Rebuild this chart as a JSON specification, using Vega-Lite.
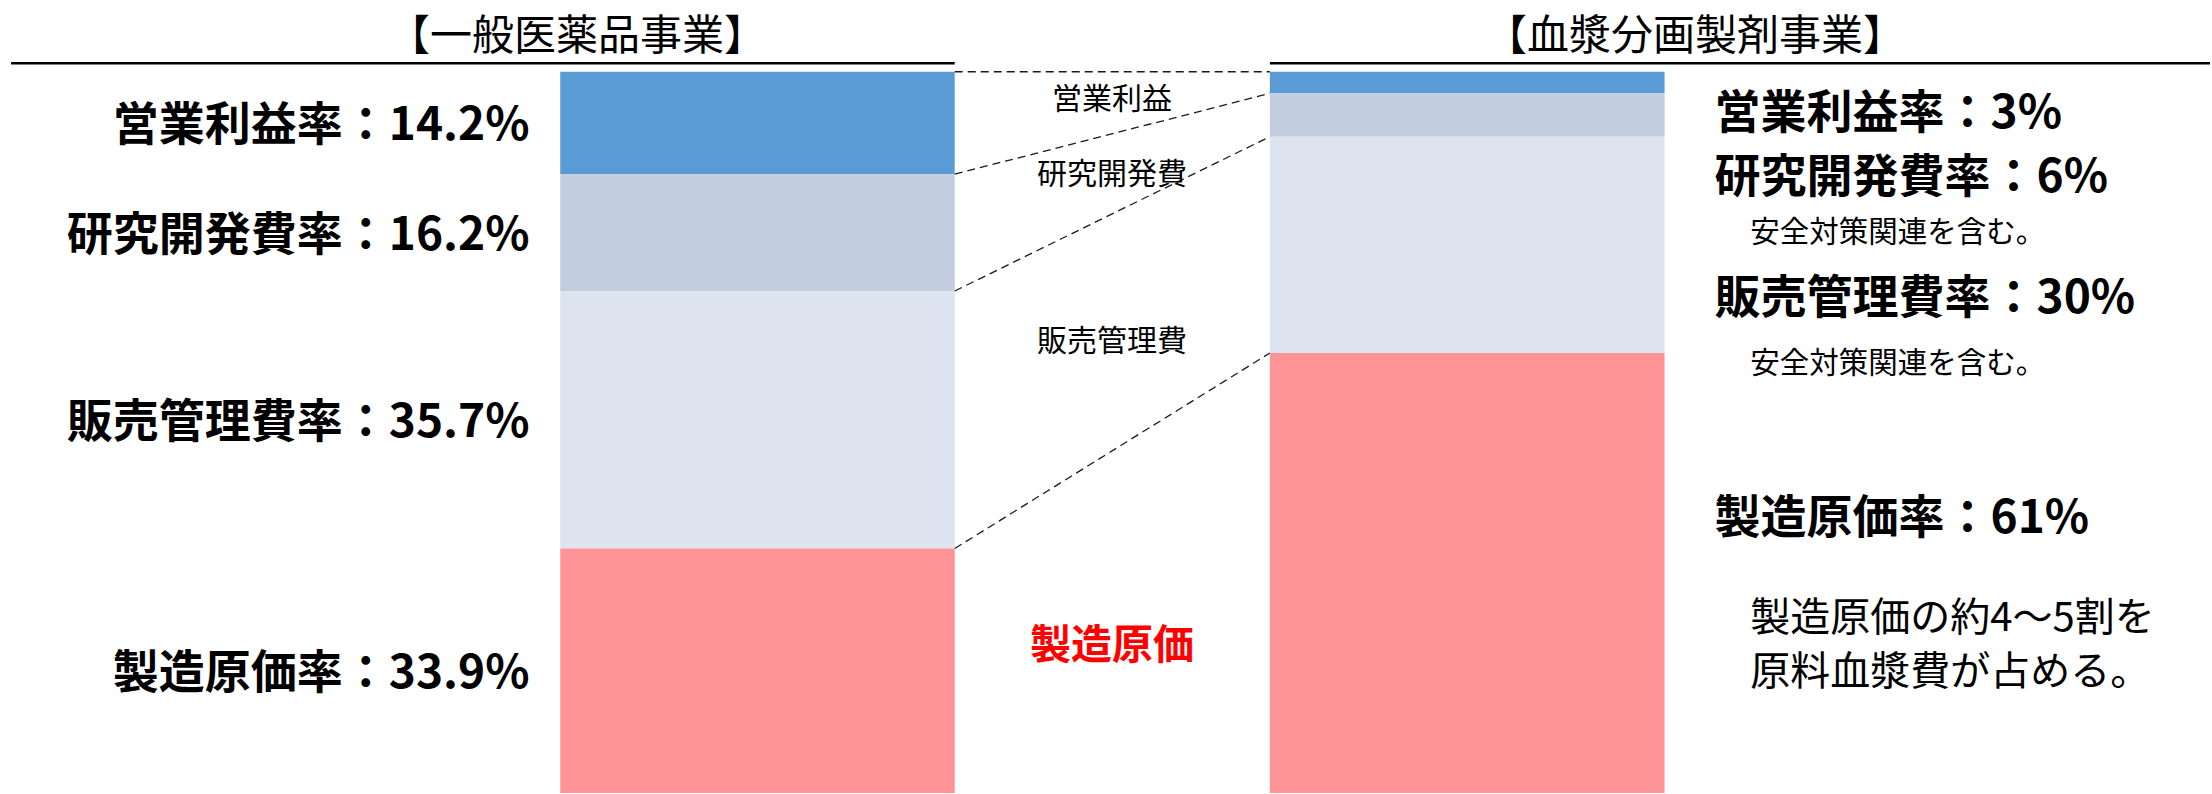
{
  "$schema": "https://vega.github.io/schema/vega-lite/v6.json",
  "width": 2212,
  "height": 794,
  "autosize": {"type": "fit", "contains": "padding"},
  "padding": 0,
  "background": "white",
  "config": {"view": {"stroke": null}, "axis": {"disable": true}, "font": "Noto Sans CJK JP", "text": {"font": "Noto Sans CJK JP"}},
  "data": {"values": [
    {"business": "otc", "bizTitle": "【一般医薬品事業】", "segment": "営業利益", "order": 1, "rate": 14.2, "label": "営業利益率：14.2%", "note": ""},
    {"business": "otc", "bizTitle": "【一般医薬品事業】", "segment": "研究開発費", "order": 2, "rate": 16.2, "label": "研究開発費率：16.2%", "note": ""},
    {"business": "otc", "bizTitle": "【一般医薬品事業】", "segment": "販売管理費", "order": 3, "rate": 35.7, "label": "販売管理費率：35.7%", "note": ""},
    {"business": "otc", "bizTitle": "【一般医薬品事業】", "segment": "製造原価", "order": 4, "rate": 33.9, "label": "製造原価率：33.9%", "note": ""},
    {"business": "plasma", "bizTitle": "【血漿分画製剤事業】", "segment": "営業利益", "order": 1, "rate": 3, "label": "営業利益率：3%", "note": ""},
    {"business": "plasma", "bizTitle": "【血漿分画製剤事業】", "segment": "研究開発費", "order": 2, "rate": 6, "label": "研究開発費率：6%", "note": "安全対策関連を含む。"},
    {"business": "plasma", "bizTitle": "【血漿分画製剤事業】", "segment": "販売管理費", "order": 3, "rate": 30, "label": "販売管理費率：30%", "note": "安全対策関連を含む。"},
    {"business": "plasma", "bizTitle": "【血漿分画製剤事業】", "segment": "製造原価", "order": 4, "rate": 61, "label": "製造原価率：61%", "note": "製造原価の約4～5割を\n原料血漿費が占める。"}
  ]},
  "transform": [
    {"stack": "rate", "groupby": ["business"], "sort": [{"field": "order", "order": "ascending"}], "as": ["from", "to"]}
  ],
  "layer": [
    {
      "transform": [{"filter": "datum.business === 'otc'"}],
      "mark": {"type": "bar"},
      "encoding": {
        "x": {"datum": 25.35, "type": "quantitative", "scale": {"domain": [0, 100], "nice": false, "zero": false}},
        "x2": {"datum": 43.2},
        "y": {"field": "from", "type": "quantitative", "scale": {"domain": [-9.945, 99.72], "reverse": true, "nice": false, "zero": false}},
        "y2": {"field": "to"},
        "color": {"field": "segment", "type": "nominal", "legend": null, "scale": {"domain": ["営業利益", "研究開発費", "販売管理費", "製造原価"], "range": ["#5B9BD5", "#C2CDE0", "#DDE4EF", "#FF9497"]}}
      }
    },
    {
      "transform": [{"filter": "datum.business === 'plasma'"}],
      "mark": {"type": "bar"},
      "encoding": {
        "x": {"datum": 57.46, "type": "quantitative"},
        "x2": {"datum": 75.32},
        "y": {"field": "from", "type": "quantitative"},
        "y2": {"field": "to"},
        "color": {"field": "segment", "type": "nominal", "legend": null}
      }
    },
    {
      "transform": [{"pivot": "business", "value": "from", "groupby": ["segment"]}],
      "mark": {"type": "rule", "color": "#1a1a1a", "strokeWidth": 1.3, "strokeDash": [8, 5]},
      "encoding": {
        "x": {"datum": 43.2, "type": "quantitative"},
        "x2": {"datum": 57.46},
        "y": {"field": "otc", "type": "quantitative"},
        "y2": {"field": "plasma"}
      }
    },
    {
      "transform": [{"filter": "datum.business === 'otc' && datum.order === 1"}],
      "mark": {"type": "rule", "color": "#000000", "strokeWidth": 2.5},
      "encoding": {
        "x": {"datum": 0.5, "type": "quantitative"},
        "x2": {"datum": 43.2},
        "y": {"datum": -1.17, "type": "quantitative"}
      }
    },
    {
      "transform": [{"filter": "datum.business === 'plasma' && datum.order === 1"}],
      "mark": {"type": "rule", "color": "#000000", "strokeWidth": 2.5},
      "encoding": {
        "x": {"datum": 57.46, "type": "quantitative"},
        "x2": {"datum": 100},
        "y": {"datum": -1.17, "type": "quantitative"}
      }
    },
    {
      "transform": [{"filter": "datum.business === 'otc' && datum.order === 1"}],
      "mark": {"type": "text", "fontSize": 42, "align": "center", "baseline": "middle", "color": "#000000", "dy": 5},
      "encoding": {
        "x": {"datum": 26.11, "type": "quantitative"},
        "y": {"datum": -5.57, "type": "quantitative"},
        "text": {"field": "bizTitle"}
      }
    },
    {
      "transform": [{"filter": "datum.business === 'plasma' && datum.order === 1"}],
      "mark": {"type": "text", "fontSize": 42, "align": "center", "baseline": "middle", "color": "#000000", "dy": 5},
      "encoding": {
        "x": {"datum": 76.7, "type": "quantitative"},
        "y": {"datum": -5.57, "type": "quantitative"},
        "text": {"field": "bizTitle"}
      }
    },
    {
      "transform": [
        {"filter": "datum.business === 'otc'"},
        {"fold": ["from", "to"], "as": ["edge", "pos"]}
      ],
      "mark": {"type": "text", "fontSize": 46, "fontWeight": "bold", "align": "right", "baseline": "middle", "color": "#000000", "dy": 3},
      "encoding": {
        "x": {"datum": 23.96, "type": "quantitative"},
        "y": {"aggregate": "mean", "field": "pos", "type": "quantitative"},
        "text": {"field": "label"}
      }
    },
    {
      "transform": [{"filter": "datum.business === 'otc' && datum.segment === '営業利益'"}],
      "mark": {"type": "text", "fontSize": 30, "align": "center", "baseline": "middle", "color": "#000000", "dy": 2},
      "encoding": {
        "x": {"datum": 50.32, "type": "quantitative"},
        "y": {"datum": 3.59, "type": "quantitative"},
        "text": {"field": "segment"}
      }
    },
    {
      "transform": [{"filter": "datum.business === 'otc' && datum.segment === '研究開発費'"}],
      "mark": {"type": "text", "fontSize": 30, "align": "center", "baseline": "middle", "color": "#000000", "dy": 2},
      "encoding": {
        "x": {"datum": 50.32, "type": "quantitative"},
        "y": {"datum": 14.09, "type": "quantitative"},
        "text": {"field": "segment"}
      }
    },
    {
      "transform": [{"filter": "datum.business === 'otc' && datum.segment === '販売管理費'"}],
      "mark": {"type": "text", "fontSize": 30, "align": "center", "baseline": "middle", "color": "#000000", "dy": 2},
      "encoding": {
        "x": {"datum": 50.32, "type": "quantitative"},
        "y": {"datum": 37.15, "type": "quantitative"},
        "text": {"field": "segment"}
      }
    },
    {
      "transform": [{"filter": "datum.business === 'otc' && datum.segment === '製造原価'"}],
      "mark": {"type": "text", "fontSize": 41, "fontWeight": "bold", "align": "center", "baseline": "middle", "color": "#FF0000", "dy": 5},
      "encoding": {
        "x": {"datum": 50.32, "type": "quantitative"},
        "y": {"datum": 79.0, "type": "quantitative"},
        "text": {"field": "segment"}
      }
    },
    {
      "transform": [{"filter": "datum.business === 'plasma' && datum.segment === '営業利益'"}],
      "mark": {"type": "text", "fontSize": 46, "fontWeight": "bold", "align": "left", "baseline": "middle", "color": "#000000", "dy": 3},
      "encoding": {
        "x": {"datum": 77.58, "type": "quantitative"},
        "y": {"datum": 5.48, "type": "quantitative"},
        "text": {"field": "label"}
      }
    },
    {
      "transform": [{"filter": "datum.business === 'plasma' && datum.segment === '研究開発費'"}],
      "mark": {"type": "text", "fontSize": 46, "fontWeight": "bold", "align": "left", "baseline": "middle", "color": "#000000", "dy": 3},
      "encoding": {
        "x": {"datum": 77.58, "type": "quantitative"},
        "y": {"datum": 14.36, "type": "quantitative"},
        "text": {"field": "label"}
      }
    },
    {
      "transform": [{"filter": "datum.business === 'plasma' && datum.segment === '販売管理費'"}],
      "mark": {"type": "text", "fontSize": 46, "fontWeight": "bold", "align": "left", "baseline": "middle", "color": "#000000", "dy": 3},
      "encoding": {
        "x": {"datum": 77.58, "type": "quantitative"},
        "y": {"datum": 31.15, "type": "quantitative"},
        "text": {"field": "label"}
      }
    },
    {
      "transform": [{"filter": "datum.business === 'plasma' && datum.segment === '製造原価'"}],
      "mark": {"type": "text", "fontSize": 46, "fontWeight": "bold", "align": "left", "baseline": "middle", "color": "#000000", "dy": 3},
      "encoding": {
        "x": {"datum": 77.58, "type": "quantitative"},
        "y": {"datum": 61.53, "type": "quantitative"},
        "text": {"field": "label"}
      }
    },
    {
      "transform": [{"filter": "datum.business === 'plasma' && datum.segment === '研究開発費'"}],
      "mark": {"type": "text", "fontSize": 29.5, "align": "left", "baseline": "middle", "color": "#000000", "dy": 2},
      "encoding": {
        "x": {"datum": 79.2, "type": "quantitative"},
        "y": {"datum": 22.1, "type": "quantitative"},
        "text": {"field": "note"}
      }
    },
    {
      "transform": [{"filter": "datum.business === 'plasma' && datum.segment === '販売管理費'"}],
      "mark": {"type": "text", "fontSize": 29.5, "align": "left", "baseline": "middle", "color": "#000000", "dy": 2},
      "encoding": {
        "x": {"datum": 79.2, "type": "quantitative"},
        "y": {"datum": 40.19, "type": "quantitative"},
        "text": {"field": "note"}
      }
    },
    {
      "transform": [{"filter": "datum.business === 'plasma' && datum.segment === '製造原価'"}],
      "mark": {"type": "text", "fontSize": 40, "align": "left", "baseline": "middle", "color": "#000000", "lineBreak": "\n", "lineHeight": 54, "dy": 3},
      "encoding": {
        "x": {"datum": 79.2, "type": "quantitative"},
        "y": {"datum": 75.41, "type": "quantitative"},
        "text": {"field": "note"}
      }
    }
  ]
}
